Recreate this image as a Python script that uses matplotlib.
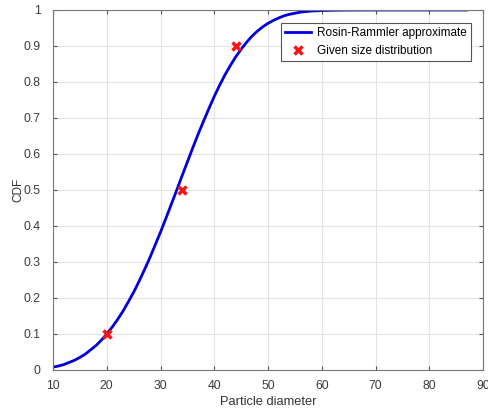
import numpy as np
import matplotlib
matplotlib.use("Agg")
import matplotlib.pyplot as plt

plt.rcParams['font.family'] = ['Liberation Sans', 'DejaVu Sans']

# Rosin-Rammler curve, values
diam = [10, 11, 12, 13, 14, 15, 16, 17, 18, 19, 20, 21, 22, 23, 24, 25, 26,
        27, 28, 29, 30, 31, 32, 33, 34, 35, 36, 37, 38, 39, 40, 41, 42, 43,
        44, 45, 46, 47, 48, 49, 50, 51, 52, 53, 54, 55, 56, 57, 58, 60, 62,
        65, 70, 75, 80, 87]
cdf = [0.008, 0.011, 0.015, 0.021, 0.027, 0.035, 0.044, 0.056, 0.068, 0.083,
       0.100, 0.119, 0.140, 0.163, 0.189, 0.216, 0.246, 0.278, 0.311, 0.347,
       0.383, 0.421, 0.460, 0.499, 0.539, 0.578, 0.617, 0.655, 0.691, 0.726,
       0.760, 0.791, 0.820, 0.846, 0.870, 0.891, 0.910, 0.927, 0.941, 0.953,
       0.963, 0.971, 0.978, 0.984, 0.988, 0.991, 0.994, 0.9955, 0.997, 0.9985,
       0.9993, 0.9998, 1.0, 1.0, 1.0, 1.0]

# given size distribution
given_d = [20, 34, 44]
given_cdf = [0.1, 0.5, 0.9]

fig = plt.figure(figsize=(4.89, 4.16), dpi=100)
ax = fig.add_axes([53/489, 46/416, 430/489, 360/416])

ax.plot(diam, cdf, color='#0000dd', lw=2, label='Rosin-Rammler approximate')
ax.plot(given_d, given_cdf, 'x', color='#ff1010', ms=6, mew=2.5,
        label='Given size distribution')

ax.set_xlim(10, 90)
ax.set_ylim(0, 1)
ax.set_xticks(np.arange(10, 91, 10))
ax.set_yticks(np.arange(0, 1.01, 0.1))
ax.set_yticklabels(['0', '0.1', '0.2', '0.3', '0.4', '0.5', '0.6', '0.7',
                    '0.8', '0.9', '1'])
ax.grid(True, color='#e3e3e3', lw=0.8)
ax.set_axisbelow(True)
ax.tick_params(direction='in', top=True, right=True, length=3,
               labelsize=8.8, colors='#555555', labelcolor='#3a3a3a')
ax.tick_params(axis='x', pad=7)
ax.tick_params(axis='y', pad=9)
for s in ax.spines.values():
    s.set_color('#777777')
    s.set_linewidth(0.8)

ax.set_xlabel('Particle diameter', fontsize=9.3, color='#333333', labelpad=3)
ax.set_ylabel('CDF', fontsize=8.5, color='#333333', labelpad=-1)

leg = ax.legend(loc='upper right', bbox_to_anchor=(0.972, 0.963),
                fontsize=8.5, fancybox=False, framealpha=1,
                edgecolor='#555555', borderpad=0.35, handlelength=2.2,
                labelspacing=0.45, handletextpad=0.5, borderaxespad=0)
leg.get_frame().set_linewidth(0.8)

fig.savefig('out.png', dpi=100)
